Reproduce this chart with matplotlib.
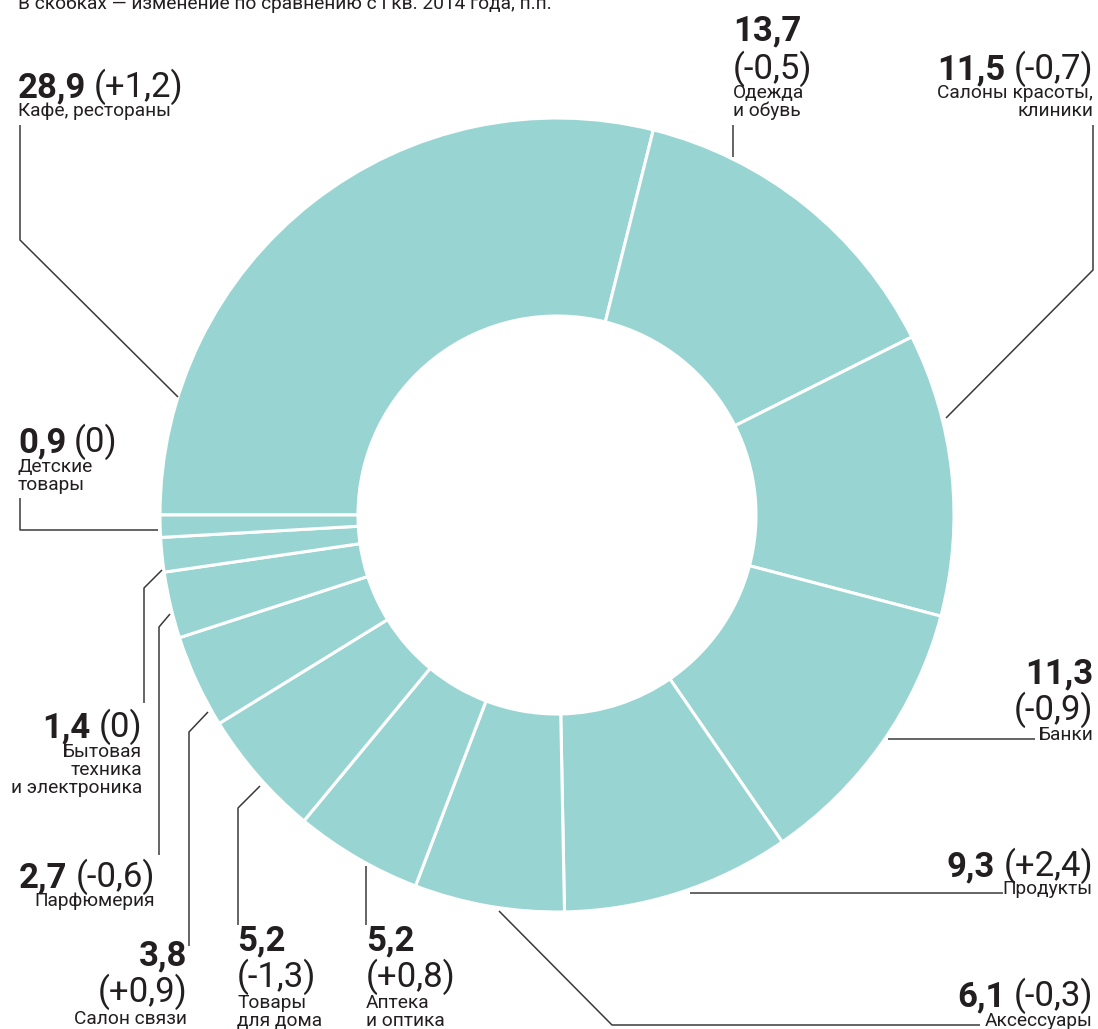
import matplotlib
matplotlib.use("Agg")
import matplotlib.pyplot as plt

# Доли по видам арендаторов, %
shares = [28.9, 13.7, 11.5, 11.3, 9.3, 6.1, 5.2, 5.2, 3.8, 2.7, 1.4, 0.9]
changes = ["+1,2", "-0,5", "-0,7", "-0,9", "+2,4", "-0,3", "+0,8", "-1,3", "+0,9", "-0,6", "0", "0"]
names = ["Кафе, рестораны", "Одежда\nи обувь", "Салоны красоты,\nклиники", "Банки",
         "Продукты", "Аксессуары", "Аптека\nи оптика", "Товары\nдля дома",
         "Салон связи", "Парфюмерия", "Бытовая\nтехника\nи электроника", "Детские\nтовары"]
subtitle = "В скобках — изменение по сравнению с I кв. 2014 года, п.п."

W, H = 1098, 1029
TEAL = "#98d5d2"
INK = "#231f20"
LINE = "#3a3a3a"
plt.rcParams["font.family"] = ["Roboto", "DejaVu Sans"]

fig = plt.figure(figsize=(W / 100, H / 100), dpi=100)
ax = fig.add_axes([0, 0, 1, 1])

# y перевёрнут, поэтому counterclock=True даёт обход по часовой стрелке на картинке
ax.pie(shares, startangle=180, counterclock=True, center=(557, 515), radius=397,
       colors=[TEAL] * len(shares),
       wedgeprops=dict(width=198, edgecolor="white", linewidth=2.2))
ax.set_xlim(0, W)
ax.set_ylim(H, 0)
ax.set_aspect("equal")
ax.axis("off")

# подписи: x, базовая линия числа, базовая линия скобки (None — в той же строке),
# базовая линия подписи, выравнивание
layout = [
    (18, 97, None, 116, "left"),
    (733, 40, 79, 98, "left"),
    (1093, 79, None, 98, "right"),
    (1093, 683, 720, 740, "right"),
    (1093, 876, None, 894, "right"),
    (1093, 1006, None, 1026, "right"),
    (366, 950, 987, 1008, "left"),
    (237, 950, 987, 1008, "left"),
    (187, 965, 1002, 1024, "right"),
    (155, 887, None, 906, "right"),
    (142, 737, None, 757, "right"),
    (18, 452, None, 472, "left"),
]

# выноски
leaders = [
    [(20, 125), (20, 240), (178, 397)],
    [(733, 125), (733, 157)],
    [(1093, 125), (1093, 270), (946, 418)],
    [(1035, 739), (888, 739)],
    [(1003, 893), (690, 893)],
    [(980, 1025), (612, 1025), (499, 911)],
    [(366, 925), (366, 866)],
    [(238, 925), (238, 808), (260, 786)],
    [(189, 946), (189, 732), (208, 712)],
    [(159, 855), (159, 627), (170, 614)],
    [(144, 703), (144, 588), (162, 570)],
    [(20, 498), (20, 530), (158, 530)],
]

BIG = 25
SMALL = 13.8
renderer = fig.canvas.get_renderer()


def width_of(t):
    bb = t.get_window_extent(renderer)
    inv = ax.transData.inverted()
    (x0, _), (x1, _) = inv.transform([(bb.x0, 0), (bb.x1, 0)])
    return abs(x1 - x0)


for share, chg, name, (x, y_num, y_chg, y_name, ha) in zip(shares, changes, names, layout):
    num = f"{share:.1f}".replace(".", ",")
    par = f"({chg})"
    if y_chg is None:
        if ha == "left":
            t = ax.text(x, y_num, num, fontsize=BIG, fontweight="bold", color=INK,
                        ha="left", va="baseline")
            ax.text(x + width_of(t) + 8, y_num, par, fontsize=BIG, color=INK,
                    ha="left", va="baseline")
        else:
            t = ax.text(x, y_num, par, fontsize=BIG, color=INK, ha="right", va="baseline")
            ax.text(x - width_of(t) - 8, y_num, num, fontsize=BIG, fontweight="bold",
                    color=INK, ha="right", va="baseline")
    else:
        ax.text(x, y_num, num, fontsize=BIG, fontweight="bold", color=INK, ha=ha, va="baseline")
        ax.text(x, y_chg, par, fontsize=BIG, color=INK, ha=ha, va="baseline")
    for i, line in enumerate(name.split("\n")):
        ax.text(x, y_name + i * 18, line, fontsize=SMALL, color=INK, ha=ha, va="baseline")

for pts in leaders:
    xs, ys = zip(*pts)
    ax.plot(xs, ys, color=LINE, lw=1.1, solid_capstyle="butt")

ax.text(18, 9, subtitle, fontsize=SMALL, color=INK, ha="left", va="baseline")

fig.savefig("out.png", dpi=100, facecolor="white")
